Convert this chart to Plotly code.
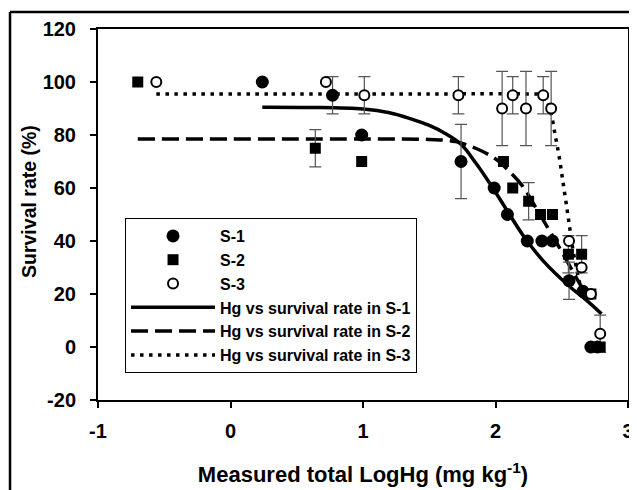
import plotly.graph_objects as go

# ---- data ----
s1_x = [0.24, 0.77, 0.99, 1.74, 1.99, 2.09, 2.24, 2.35, 2.43, 2.555, 2.66, 2.72, 2.77]
s1_y = [100, 95, 80, 70, 60, 50, 40, 40, 40, 25, 21, 0, 0]
s1_err = [0, 7, 0, 14, 0, 0, 0, 0, 0, 7, 0, 0, 0]

s2_x = [-0.70, 0.64, 0.99, 2.06, 2.13, 2.25, 2.34, 2.43, 2.55, 2.65, 2.72, 2.79]
s2_y = [100, 75, 70, 70, 60, 55, 50, 50, 35, 35, 20, 0]
s2_err = [0, 7, 0, 0, 0, 7, 0, 0, 7, 7, 0, 0]

s3_x = [-0.56, 0.72, 1.01, 1.72, 2.05, 2.13, 2.23, 2.36, 2.42, 2.555, 2.65, 2.72, 2.79]
s3_y = [100, 100, 95, 95, 90, 95, 90, 95, 90, 40, 30, 20, 5]
s3_err = [0, 0, 7, 7, 14, 7, 14, 7, 14, 0, 0, 0, 7]

# fitted curves
fit1_x = [0.24, 0.6, 1.0, 1.2, 1.35, 1.5, 1.62, 1.74, 1.85, 1.96, 2.1, 2.21, 2.36, 2.555, 2.69, 2.80]
fit1_y = [90.5, 90.4, 89.8, 88.4, 86.3, 83.6, 80.6, 76.5, 69.5, 61.5, 50.5, 42, 32.5, 23, 17.5, 12.5]

fit2_x = [-0.70, 0.5, 1.2, 1.5, 1.7, 1.85, 2.0, 2.1, 2.2, 2.3, 2.4, 2.5, 2.6, 2.68]
fit2_y = [78.5, 78.5, 78.5, 78.3, 77.5, 75, 71, 66.5, 61, 53, 44.5, 36, 27, 20]

fit3_x = [-0.56, 0.5, 1.5, 2.2, 2.35, 2.39, 2.42, 2.45, 2.48, 2.51, 2.54, 2.56, 2.58, 2.61, 2.64]
fit3_y = [95.5, 95.5, 95.5, 95.5, 95, 92.5, 88, 80, 72, 62, 52, 45, 38, 30, 23]

x_ticks = [-1, 0, 1, 2, 3]
x_ticklabels = ["-1", "0", "1", "2", "3"]
y_ticks = [-20, 0, 20, 40, 60, 80, 100, 120]
y_ticklabels = ["-20", "0", "20", "40", "60", "80", "100", "120"]

series_names = ["S-1", "S-2", "S-3"]
fit_names = ["Hg vs survival rate in S-1", "Hg vs survival rate in S-2",
             "Hg vs survival rate in S-3"]
x_title = "Measured total LogHg (mg kg<sup>-1</sup>)"
y_title = "Survival rate (%)"

FONT = "Liberation Sans, Arial, sans-serif"
B = lambda s: "<b>" + s + "</b>"

fig = go.Figure()

# fitted lines (drawn first, below markers)
fig.add_trace(go.Scatter(x=fit1_x, y=fit1_y, mode="lines", line_shape="spline",
                         name=B(fit_names[0]), legendrank=4, legendgroup="f1",
                         line=dict(color="black", width=3.5)))
fig.add_trace(go.Scatter(x=fit2_x, y=fit2_y, mode="lines", line_shape="spline",
                         name=B(fit_names[1]), legendrank=5, legendgroup="f2",
                         line=dict(color="black", width=3.5, dash="17px,7px")))
fig.add_trace(go.Scatter(x=fit3_x, y=fit3_y, mode="lines", line_shape="spline",
                         name=B(fit_names[2]), legendrank=6, legendgroup="f3",
                         line=dict(color="black", width=3.5, dash="3.5px,5.5px")))

# error bars
for xs, ys, es in [(s1_x, s1_y, s1_err), (s2_x, s2_y, s2_err), (s3_x, s3_y, s3_err)]:
    ex = [x for x, e in zip(xs, es) if e > 0]
    ey = [y for y, e in zip(ys, es) if e > 0]
    ee = [e for e in es if e > 0]
    fig.add_trace(go.Scatter(x=ex, y=ey, mode="markers", showlegend=False,
                             marker=dict(size=1, color="rgba(0,0,0,0)"),
                             hoverinfo="skip",
                             error_y=dict(type="data", array=ee, visible=True,
                                          color="#555555", thickness=1.2, width=6)))

# markers
fig.add_trace(go.Scatter(x=s1_x, y=s1_y, mode="markers", name=B(series_names[0]),
                         legendrank=1, legendgroup="s1",
                         marker=dict(symbol="circle", size=13, color="black")))
fig.add_trace(go.Scatter(x=s2_x, y=s2_y, mode="markers", name=B(series_names[1]),
                         legendrank=2, legendgroup="s2",
                         marker=dict(symbol="square", size=11, color="black")))
fig.add_trace(go.Scatter(x=s3_x, y=s3_y, mode="markers", name=B(series_names[2]),
                         legendrank=3, legendgroup="s3",
                         marker=dict(symbol="circle", size=10, color="white",
                                     line=dict(color="black", width=2))))

axis_common = dict(showline=True, linecolor="black", linewidth=2, mirror=True,
                   ticks="outside", ticklen=6, tickwidth=2, tickcolor="black",
                   showgrid=False, zeroline=False, automargin=False,
                   tickfont=dict(family=FONT, size=20, color="black"))

fig.update_layout(
    width=629, height=482,
    margin=dict(l=90, r=9, t=21, b=90),
    paper_bgcolor="white", plot_bgcolor="white",
    font=dict(family=FONT, color="black"),
    xaxis=dict(range=[-1, 3], tickvals=x_ticks, ticktext=[B(t) for t in x_ticklabels],
               ticklabelstandoff=6,
               title=dict(text=B(x_title),
                          font=dict(family=FONT, size=22, color="black"),
                          standoff=26),
               **axis_common),
    yaxis=dict(range=[-20, 120], tickvals=y_ticks, ticktext=[B(t) for t in y_ticklabels],
               ticklabelstandoff=10,
               **axis_common),
    annotations=[dict(text=B(y_title), xref="paper", yref="paper",
                      x=-0.130, y=0.534, xanchor="center", yanchor="middle",
                      textangle=-90, showarrow=False,
                      font=dict(family=FONT, size=19.5, color="black"))],
    legend=dict(x=0.051, y=0.4906, xanchor="left", yanchor="top",
                bgcolor="white", bordercolor="black", borderwidth=1,
                font=dict(family=FONT, size=16, color="black"),
                itemwidth=84, tracegroupgap=0, itemsizing="trace"),
    showlegend=True,
    shapes=[
        dict(type="line", xref="paper", yref="paper", x0=-0.166, x1=1.1,
             y0=1.0458, y1=1.0458, line=dict(color="black", width=2.5)),
        dict(type="line", xref="paper", yref="paper", x0=-0.166, x1=-0.166,
             y0=1.0458, y1=-0.3, line=dict(color="black", width=2.5)),
    ],
)

fig.write_html("out.html")
